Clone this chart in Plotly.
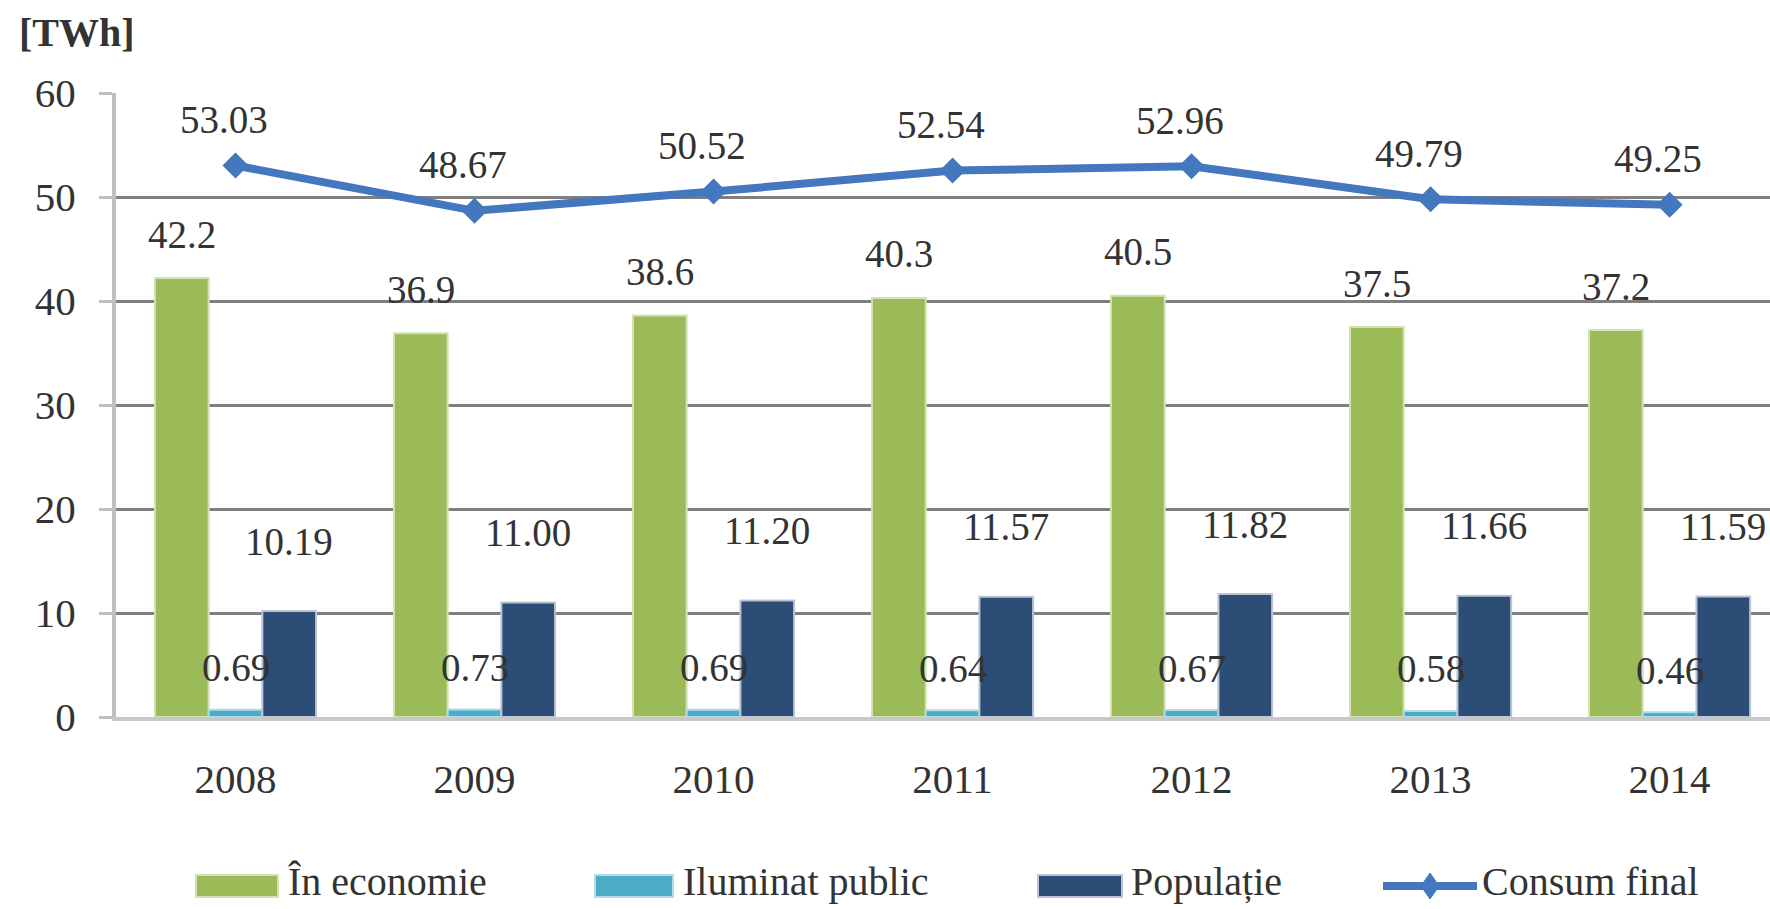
import plotly.graph_objects as go

# data (TWh)
years = ['2008', '2009', '2010', '2011', '2012', '2013', '2014']
economie = [42.2, 36.9, 38.6, 40.3, 40.5, 37.5, 37.2]
iluminat = [0.69, 0.73, 0.69, 0.64, 0.67, 0.58, 0.46]
populatie = [10.19, 11.00, 11.20, 11.57, 11.82, 11.66, 11.59]
consum_final = [53.03, 48.67, 50.52, 52.54, 52.96, 49.79, 49.25]

GREEN = '#9BBB59'
CYAN = '#4BACC6'
NAVY = '#2C4D75'
LINE = '#4377BE'
TEXT = '#333333'
FONT = 'Liberation Serif'

W, H = 1770, 909
L, R, T, B = 116, 0, 93, 192
BAR_GAP = 0.326
bar_w = (1 - BAR_GAP) / 3


def px_x(p):
    return (p - L) / (W - L - R)


def px_y(p):
    return (H - B - p) / (H - T - B)


fig = go.Figure()

bars = [
    ('În economie', economie, GREEN, '#d3e2b3', '{:.1f}', 44),
    ('Iluminat public', iluminat, CYAN, '#b0dbe7', '{:.2f}', 42),
    ('Populație', populatie, NAVY, '#b9c5d6', '{:.2f}', 70),
]

for k, (name, vals, color, edge, fmt, shift) in enumerate(bars):
    fig.add_trace(go.Bar(
        x=years, y=vals, name=name,
        marker=dict(color=color, line=dict(color=edge, width=2)),
        showlegend=False
    ))
    for i, v in enumerate(vals):
        fig.add_annotation(
            x=i + (k - 1) * bar_w, y=v, xref='x', yref='y',
            text=fmt.format(v), showarrow=False, yshift=shift,
            font=dict(family=FONT, size=39, color=TEXT)
        )

fig.add_trace(go.Scatter(
    x=years, y=consum_final, name='Consum final',
    mode='lines+markers',
    line=dict(color=LINE, width=8),
    marker=dict(symbol='diamond', size=20, color=LINE),
    showlegend=False
))
for i, v in enumerate(consum_final):
    fig.add_annotation(
        x=i, y=v, xref='x', yref='y', text='{:.2f}'.format(v),
        showarrow=False, yshift=46, xshift=-12,
        font=dict(family=FONT, size=39, color=TEXT)
    )

# unit label
fig.add_annotation(
    x=px_x(17), y=px_y(33), xref='paper', yref='paper',
    text='<b>[TWh]</b>', showarrow=False, xanchor='left', yanchor='middle',
    font=dict(family=FONT, size=40, color=TEXT)
)

# legend drawn by hand so the swatches keep their wide shape
ly = 886
ty = 881
legend_items = [
    ('bar', GREEN, '#d3e2b3', 196, 278, 286, 'În economie'),
    ('bar', CYAN, '#b0dbe7', 595, 673, 681, 'Iluminat public'),
    ('bar', NAVY, '#b9c5d6', 1038, 1122, 1129, 'Populație'),
    ('line', LINE, LINE, 1383, 1477, 1480, 'Consum final'),
]
for kind, color, edge, x0, x1, tx, label in legend_items:
    if kind == 'bar':
        fig.add_shape(
            type='rect', xref='paper', yref='paper',
            x0=px_x(x0), x1=px_x(x1), y0=px_y(ly + 11), y1=px_y(ly - 11),
            fillcolor=color, line=dict(color=edge, width=2)
        )
    else:
        fig.add_shape(
            type='line', xref='paper', yref='paper',
            x0=px_x(x0), x1=px_x(x1), y0=px_y(ly), y1=px_y(ly),
            line=dict(color=color, width=8)
        )
        cx = (x0 + x1) / 2
        fig.add_shape(
            type='path', xref='paper', yref='paper',
            path='M {} {} L {} {} L {} {} L {} {} Z'.format(
                px_x(cx - 9), px_y(ly), px_x(cx), px_y(ly - 13),
                px_x(cx + 9), px_y(ly), px_x(cx), px_y(ly + 13)),
            fillcolor=color, line=dict(color=color, width=1)
        )
    fig.add_annotation(
        x=px_x(tx), y=px_y(ty), xref='paper', yref='paper',
        text=label, showarrow=False, xanchor='left', yanchor='middle',
        font=dict(family=FONT, size=40, color=TEXT)
    )

fig.update_layout(
    width=W, height=H,
    margin=dict(l=L, r=R, t=T, b=B, pad=0),
    paper_bgcolor='white', plot_bgcolor='white',
    barmode='group', bargap=BAR_GAP, bargroupgap=0,
    showlegend=False,
    font=dict(family=FONT, size=40, color=TEXT),
    xaxis=dict(
        type='category', range=[-0.5, 6.42],
        showgrid=False, showline=True, linecolor='#c8c8c8', linewidth=4,
        ticks='', ticklabelstandoff=23,
        tickfont=dict(family=FONT, size=41, color=TEXT)
    ),
    yaxis=dict(
        range=[0, 60], dtick=10, showgrid=True,
        gridcolor='#7f7f7f', gridwidth=3, zeroline=False,
        showline=True, linecolor='#bfbfbf', linewidth=4,
        ticks='outside', ticklen=13, tickwidth=3, tickcolor='#bfbfbf',
        ticklabelstandoff=15,
        tickfont=dict(family=FONT, size=41, color=TEXT)
    ),
)

fig.write_html("out.html", config={'displayModeBar': False},
               post_script="document.body.style.margin='0';")
